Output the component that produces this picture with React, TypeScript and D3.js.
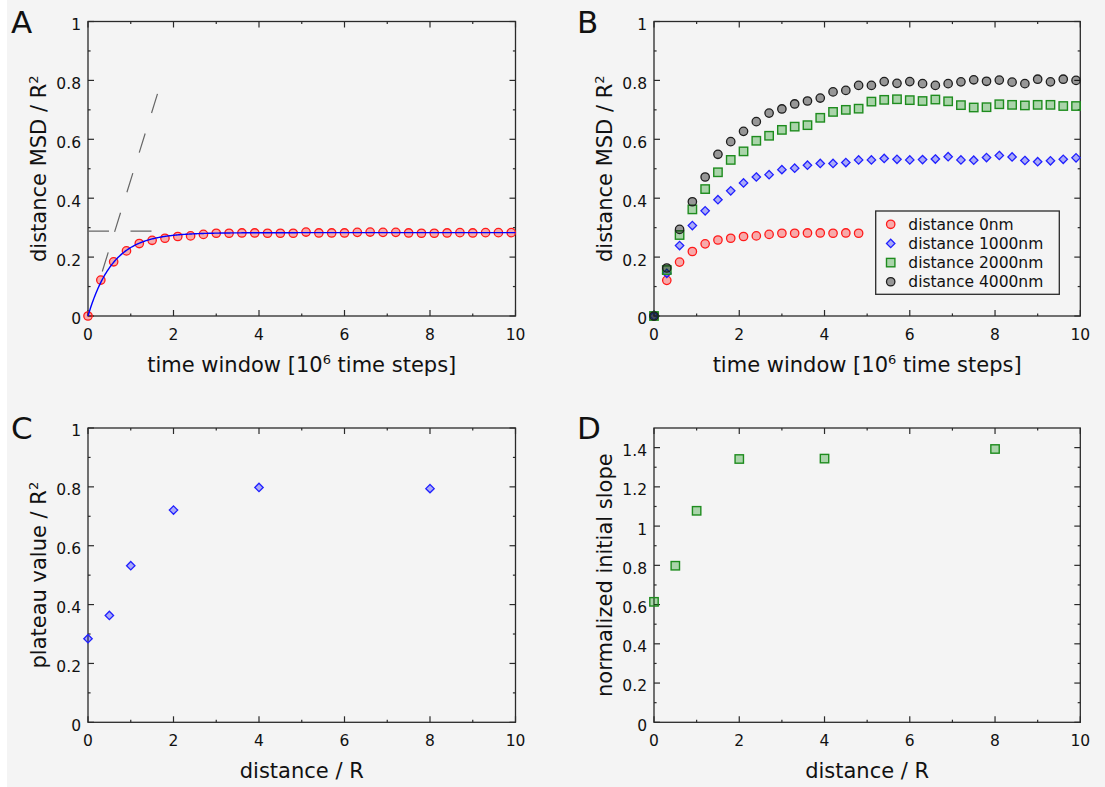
import React from "react";
import * as d3 from "d3";

// ---------- DATA ----------
const timeA = [0, 0.3, 0.6, 0.9, 1.2, 1.5, 1.8, 2.1, 2.4, 2.7, 3.0, 3.3, 3.6, 3.9, 4.2, 4.5, 4.8, 5.1, 5.4, 5.7, 6.0, 6.3, 6.6, 6.9, 7.2, 7.5, 7.8, 8.1, 8.4, 8.7, 9.0, 9.3, 9.6, 9.9];
const msdA = [0, 0.122, 0.184, 0.221, 0.246, 0.257, 0.264, 0.270, 0.272, 0.277, 0.281, 0.281, 0.282, 0.282, 0.281, 0.281, 0.281, 0.285, 0.282, 0.282, 0.282, 0.284, 0.285, 0.284, 0.284, 0.282, 0.281, 0.281, 0.282, 0.283, 0.282, 0.283, 0.283, 0.283];

// fitted model for panel A: plateau * (1 - exp(-t / tau))
const fitPlateau = 0.283;
const fitTau = 0.58;
// guide lines in panel A
const plateauGuide = [[0, 0.288], [1.49, 0.288]];
const slopeGuide = [[0.334, 0.151], [1.64, 0.761]];

const timeB = timeA;
const msd0nm = [0, 0.121, 0.183, 0.219, 0.245, 0.258, 0.264, 0.270, 0.272, 0.277, 0.281, 0.281, 0.282, 0.282, 0.281, 0.282, 0.281];
const msd1000nm = [0, 0.145, 0.239, 0.307, 0.357, 0.395, 0.425, 0.452, 0.472, 0.480, 0.497, 0.502, 0.512, 0.518, 0.518, 0.521, 0.530, 0.530, 0.535, 0.532, 0.530, 0.531, 0.533, 0.541, 0.530, 0.529, 0.538, 0.545, 0.540, 0.528, 0.524, 0.527, 0.532, 0.537];
const msd2000nm = [0, 0.156, 0.275, 0.362, 0.431, 0.488, 0.530, 0.559, 0.595, 0.612, 0.632, 0.643, 0.648, 0.673, 0.693, 0.700, 0.704, 0.728, 0.734, 0.736, 0.733, 0.730, 0.735, 0.729, 0.716, 0.708, 0.709, 0.719, 0.717, 0.715, 0.717, 0.717, 0.713, 0.713];
const msd4000nm = [0, 0.163, 0.294, 0.388, 0.472, 0.549, 0.592, 0.627, 0.660, 0.689, 0.703, 0.720, 0.730, 0.740, 0.761, 0.766, 0.783, 0.783, 0.796, 0.790, 0.796, 0.789, 0.783, 0.789, 0.795, 0.802, 0.797, 0.801, 0.794, 0.789, 0.804, 0.795, 0.804, 0.800];
const legendLabels = ["distance 0nm", "distance 1000nm", "distance 2000nm", "distance 4000nm"];

const distances = [0, 0.5, 1, 2, 4, 8];
const plateauValues = [0.284, 0.363, 0.532, 0.721, 0.798, 0.794];
const initialSlopes = [0.614, 0.798, 1.078, 1.342, 1.344, 1.393];

const xTicks = [0, 2, 4, 6, 8, 10];
const xMinor = [1, 3, 5, 7, 9];
const yTicks01 = [0, 0.2, 0.4, 0.6, 0.8, 1];
const yMinor01 = [0.1, 0.3, 0.5, 0.7, 0.9];
const yTicksD = [0, 0.2, 0.4, 0.6, 0.8, 1, 1.2, 1.4];
const yMinorD = [0.1, 0.3, 0.5, 0.7, 0.9, 1.1, 1.3];

// ---------- STYLE ----------
const FONT = "'DejaVu Sans', Verdana, sans-serif";
const AXIS = "#2a2a2a";
const TEXT = "#111";
const BG = "#f4f4f4";
const STY = {
  red: { stroke: "#ff1a1a", fill: "rgba(255,0,0,0.3)" },
  blue: { stroke: "#2020ff", fill: "rgba(0,0,255,0.3)" },
  green: { stroke: "#1e8c1e", fill: "rgba(0,140,0,0.3)" },
  gray: { stroke: "#1e1e1e", fill: "rgba(0,0,0,0.38)" },
};
type Kind = "circle" | "diamond" | "square";

function Marker({ kind, x, y, s }: { kind: Kind; x: number; y: number; s: { stroke: string; fill: string } }) {
  if (kind === "circle") return <circle cx={x} cy={y} r={4.2} fill={s.fill} stroke={s.stroke} strokeWidth={1.3} />;
  if (kind === "square") return <rect x={x - 4.2} y={y - 4.2} width={8.4} height={8.4} fill={s.fill} stroke={s.stroke} strokeWidth={1.4} />;
  const h = 4.2;
  return <path d={`M${x},${y - h}L${x + h},${y}L${x},${y + h}L${x - h},${y}Z`} fill={s.fill} stroke={s.stroke} strokeWidth={1.3} />;
}

const fmt = (v: number) => String(+v.toFixed(1));

function Frame({ x, y, yTicks, yMinor, letter, xTitle, yTitle }: any) {
  const [l, r] = x.range();
  const [b, t] = y.range();
  const maj = 6, min = 2.6;
  return (
    <g>
      <rect x={l} y={t} width={r - l} height={b - t} fill="none" stroke={AXIS} strokeWidth={1.3} />
      {xTicks.map((v) => (
        <g key={"xt" + v}>
          <line x1={x(v)} x2={x(v)} y1={b} y2={b - maj} stroke={AXIS} strokeWidth={1.2} />
          <line x1={x(v)} x2={x(v)} y1={t} y2={t + maj} stroke={AXIS} strokeWidth={1.2} />
          <text x={x(v)} y={b + 23.7} textAnchor="middle" fontSize={15.5} fill={TEXT}>{fmt(v)}</text>
        </g>
      ))}
      {xMinor.map((v) => (
        <g key={"xm" + v}>
          <line x1={x(v)} x2={x(v)} y1={b} y2={b - min} stroke={AXIS} strokeWidth={1.2} />
          <line x1={x(v)} x2={x(v)} y1={t} y2={t + min} stroke={AXIS} strokeWidth={1.2} />
        </g>
      ))}
      {yTicks.map((v: number) => (
        <g key={"yt" + v}>
          <line x1={l} x2={l + maj} y1={y(v)} y2={y(v)} stroke={AXIS} strokeWidth={1.2} />
          <line x1={r} x2={r - maj} y1={y(v)} y2={y(v)} stroke={AXIS} strokeWidth={1.2} />
          <text x={l - 7} y={y(v) + 8.4} textAnchor="end" fontSize={15.5} fill={TEXT}>{fmt(v)}</text>
        </g>
      ))}
      {yMinor.map((v: number) => (
        <g key={"ym" + v}>
          <line x1={l} x2={l + min} y1={y(v)} y2={y(v)} stroke={AXIS} strokeWidth={1.2} />
          <line x1={r} x2={r - min} y1={y(v)} y2={y(v)} stroke={AXIS} strokeWidth={1.2} />
        </g>
      ))}
      <text x={l - 77} y={t + 11.2} fontSize={31} fill={TEXT}>{letter}</text>
      <text x={(l + r) / 2} y={b + 55.5} textAnchor="middle" fontSize={21} fill={TEXT}>{xTitle}</text>
      <text transform={`translate(${l - 42},${(t + b) / 2}) rotate(-90)`} textAnchor="middle" fontSize={21} fill={TEXT}>{yTitle}</text>
    </g>
  );
}

const timeTitle = (
  <>
    time window [10<tspan dy={-8} fontSize={13}>6</tspan><tspan dy={8}> time steps]</tspan>
  </>
);
const msdTitle = (
  <>
    distance MSD / R<tspan dy={-8} fontSize={13}>2</tspan>
  </>
);

export default function App() {
  const W = 1105, H = 787;
  const xA = d3.scaleLinear().domain([0, 10]).range([88, 515.5]);
  const yA = d3.scaleLinear().domain([0, 1]).range([316, 21.5]);
  const xB = d3.scaleLinear().domain([0, 10]).range([654, 1080.3]);
  const yB = yA;
  const xC = d3.scaleLinear().domain([0, 10]).range([88, 515.5]);
  const yC = d3.scaleLinear().domain([0, 1]).range([722.3, 428]);
  const xD = d3.scaleLinear().domain([0, 10]).range([654, 1080.3]);
  const yD = d3.scaleLinear().domain([0, 1.5]).range([722.3, 428]);

  const fitLine = d3.line<number>().x((t) => xA(t)).y((t) => yA(fitPlateau * (1 - Math.exp(-t / fitTau))));
  const fitTs = d3.range(0, 10.0001, 0.02);
  const seg = d3.line<number[]>().x((d) => xA(d[0])).y((d) => yA(d[1]));

  const seriesB: { vals: number[]; kind: Kind; s: any }[] = [
    { vals: msd0nm, kind: "circle", s: STY.red },
    { vals: msd1000nm, kind: "diamond", s: STY.blue },
    { vals: msd2000nm, kind: "square", s: STY.green },
    { vals: msd4000nm, kind: "circle", s: STY.gray },
  ];
  const legX = 875.7, legY = 211, legW = 183.6, legH = 83.3;

  return (
    <svg width={W} height={H} style={{ position: "absolute", left: 0, top: 0, fontFamily: FONT }}>
      <rect x={0} y={0} width={W} height={H} fill="#fff" />
      <rect x={7} y={0} width={W - 7} height={H} fill={BG} />

      {/* Panel A */}
      <Frame x={xA} y={yA} yTicks={yTicks01} yMinor={yMinor01} letter="A" xTitle={timeTitle} yTitle={msdTitle} />
      <path d={seg(plateauGuide) || ""} fill="none" stroke="#666" strokeWidth={1.2} strokeDasharray="21 21.5" />
      <path d={seg(slopeGuide) || ""} fill="none" stroke="#666" strokeWidth={1.2} strokeDasharray="20 21.5" />
      {timeA.map((t, i) => (
        <Marker key={"a" + i} kind="circle" x={xA(t)} y={yA(msdA[i])} s={STY.red} />
      ))}
      <path d={fitLine(fitTs) || ""} fill="none" stroke="#0000ff" strokeWidth={1.4} />

      {/* Panel B */}
      <Frame x={xB} y={yB} yTicks={yTicks01} yMinor={yMinor01} letter="B" xTitle={timeTitle} yTitle={msdTitle} />
      {seriesB.map((sr, k) =>
        sr.vals.map((v, i) => <Marker key={`b${k}-${i}`} kind={sr.kind} x={xB(timeB[i])} y={yB(v)} s={sr.s} />)
      )}
      <rect x={legX} y={legY} width={legW} height={legH} fill={BG} stroke={AXIS} strokeWidth={1.3} />
      {seriesB.map((sr, k) => {
        const ry = 224.3 + k * 19.15;
        return (
          <g key={"lg" + k}>
            <Marker kind={sr.kind} x={890.7} y={ry} s={sr.s} />
            <text x={908.3} y={ry + 5.6} fontSize={15.5} fill={TEXT}>{legendLabels[k]}</text>
          </g>
        );
      })}

      {/* Panel C */}
      <Frame x={xC} y={yC} yTicks={yTicks01} yMinor={yMinor01} letter="C" xTitle="distance / R"
        yTitle={<>plateau value / R<tspan dy={-8} fontSize={13}>2</tspan></>} />
      {distances.map((d, i) => (
        <Marker key={"c" + i} kind="diamond" x={xC(d)} y={yC(plateauValues[i])} s={STY.blue} />
      ))}

      {/* Panel D */}
      <Frame x={xD} y={yD} yTicks={yTicksD} yMinor={yMinorD} letter="D" xTitle="distance / R" yTitle="normalized initial slope" />
      {distances.map((d, i) => (
        <Marker key={"d" + i} kind="square" x={xD(d)} y={yD(initialSlopes[i])} s={STY.green} />
      ))}
    </svg>
  );
}
